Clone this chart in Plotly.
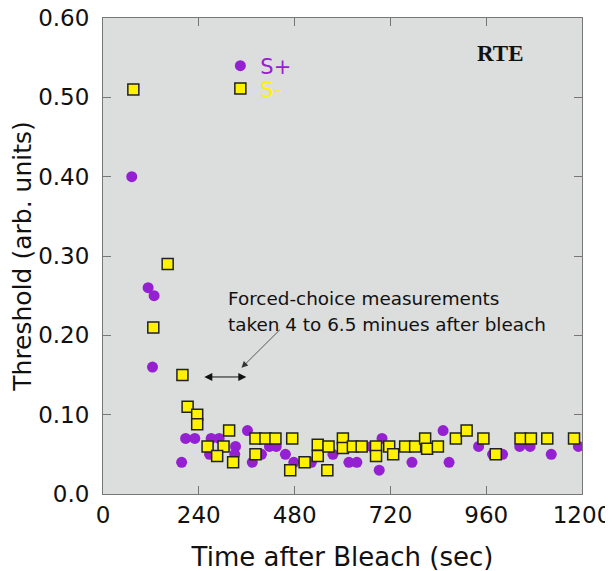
import plotly.graph_objects as go

# S+ (purple circles)
splus_t = [72, 113, 128, 124, 197, 207, 230, 271, 291, 267, 332, 330, 362, 374, 397,
           417, 434, 457, 478, 522, 576, 616, 636, 672, 699, 692, 774, 852, 867, 941,
           976, 1001, 1044, 1070, 1123, 1191]
splus_y = [0.40, 0.26, 0.25, 0.16, 0.04, 0.07, 0.07, 0.07, 0.07, 0.05, 0.06, 0.05, 0.08, 0.04, 0.05,
           0.06, 0.06, 0.05, 0.04, 0.04, 0.05, 0.04, 0.04, 0.06, 0.07, 0.03, 0.04, 0.08, 0.04, 0.06,
           0.05, 0.05, 0.06, 0.06, 0.05, 0.06]

# S- (yellow squares)
sminus_t = [76, 162, 126, 199, 212, 236, 236, 262, 302, 286, 316, 326, 382, 382, 407,
            432, 474, 469, 505, 538, 538, 565, 562, 601, 601, 626, 648, 684, 684, 717,
            727, 757, 782, 807, 812, 839, 884, 911, 953, 984, 1046, 1072, 1113, 1180]
sminus_y = [0.51, 0.29, 0.21, 0.15, 0.11, 0.10, 0.088, 0.06, 0.06, 0.048, 0.08, 0.04, 0.07, 0.05, 0.07,
            0.07, 0.07, 0.03, 0.04, 0.062, 0.048, 0.06, 0.03, 0.07, 0.058, 0.06, 0.06, 0.06, 0.048, 0.06,
            0.05, 0.06, 0.06, 0.07, 0.057, 0.06, 0.07, 0.08, 0.07, 0.05, 0.07, 0.07, 0.07, 0.07]

x_ticks = [0, 240, 480, 720, 960, 1200]
y_ticks = [0.0, 0.1, 0.2, 0.3, 0.4, 0.5, 0.6]
y_ticktext = ["0.0", "0.10", "0.20", "0.30", "0.40", "0.50", "0.60"]

PURPLE = "#9420D2"
YELLOW = "#FFF200"
FONT = "DejaVu Sans"

fig = go.Figure()
fig.add_trace(go.Scatter(
    x=splus_t, y=splus_y, mode="markers", legend="legend",
    name=f"<span style='color:{PURPLE}'>S+</span>",
    marker=dict(symbol="circle", size=11, color=PURPLE, line=dict(width=0)),
))
fig.add_trace(go.Scatter(
    x=sminus_t, y=sminus_y, mode="markers", legend="legend2",
    name=f"<span style='color:{YELLOW}'>S-</span>",
    marker=dict(symbol="square", size=11, color=YELLOW, line=dict(width=1.5, color="#222")),
))

axis_common = dict(
    showgrid=False, zeroline=False, showline=True, linecolor="#777", linewidth=1,
    ticks="inside", ticklen=8, tickcolor="#777", mirror="ticks", automargin=False,
    ticklabeloverflow="allow",
    tickfont=dict(family=FONT, size=23, color="#111"),
)

leg_common = dict(xanchor="left", yanchor="middle", bgcolor="rgba(0,0,0,0)",
                  font=dict(family=FONT, size=21), itemsizing="trace")

fig.update_layout(
    width=613, height=571,
    margin=dict(l=95, r=39, t=10, b=85),
    paper_bgcolor="white", plot_bgcolor="#DCDDDD",
    font=dict(family=FONT, color="#111"),
    showlegend=True,
    legend=dict(x=0.245, y=0.899, **leg_common),
    legend2=dict(x=0.245, y=0.851, **leg_common),
    xaxis=dict(range=[0, 1200], tickvals=x_ticks, ticktext=[str(v) for v in x_ticks],
               title=dict(text="Time after Bleach (sec)", font=dict(family=FONT, size=26), standoff=21),
               **axis_common),
    yaxis=dict(range=[0, 0.6], tickvals=y_ticks, ticktext=y_ticktext, ticklabelstandoff=8,
               title=dict(text="Threshold (arb. units)", font=dict(family=FONT, size=25), standoff=13),
               **axis_common),
)

fig.add_annotation(x=994, y=0.555, text="<b>RTE</b>", showarrow=False,
                   font=dict(family="Liberation Serif", size=23, color="#111"))
fig.add_annotation(x=309, y=0.2466, text="Forced-choice measurements", showarrow=False,
                   xanchor="left", yanchor="middle", font=dict(family=FONT, size=18.4, color="#111"))
fig.add_annotation(x=309, y=0.214, text="taken 4 to 6.5 minues after bleach", showarrow=False,
                   xanchor="left", yanchor="middle", font=dict(family=FONT, size=18.4, color="#111"))
# double-headed arrow
fig.add_annotation(x=359, y=0.1475, ax=250, ay=0.1475, axref="x", ayref="y", xref="x", yref="y",
                   text="", showarrow=True, arrowside="end+start", arrowhead=2, arrowsize=1.6,
                   arrowwidth=1, arrowcolor="#111")
# pointer arrow
fig.add_annotation(x=347, y=0.159, ax=447, ay=0.209, axref="x", ayref="y", xref="x", yref="y",
                   text="", showarrow=True, arrowhead=2, arrowsize=1.6, arrowwidth=0.8,
                   arrowcolor="#333")

fig.write_html("out.html")
